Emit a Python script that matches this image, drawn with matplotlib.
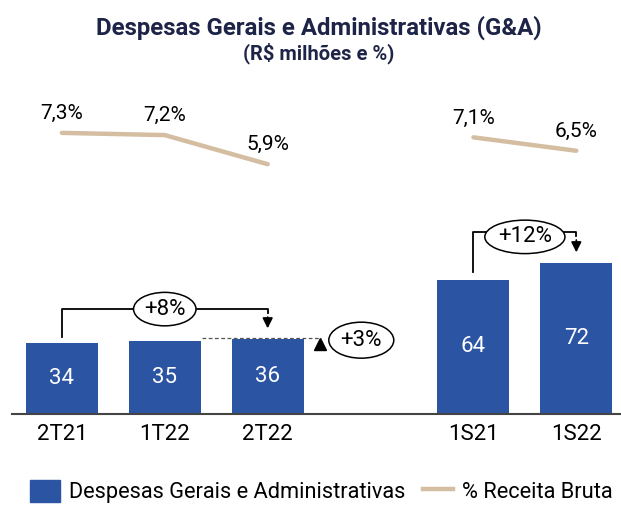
import matplotlib
matplotlib.use("Agg")
import matplotlib.pyplot as plt
from matplotlib.patches import Patch
from matplotlib.lines import Line2D
import numpy as np

plt.rcParams["font.family"] = ["Roboto", "DejaVu Sans"]

# data
quarters = ["2T21", "1T22", "2T22"]
semesters = ["1S21", "1S22"]
ga_quarters = [34, 35, 36]
ga_semesters = [64, 72]
pct_quarters = [7.3, 7.2, 5.9]
pct_semesters = [7.1, 6.5]
pct_labels_q = ["7,3%", "7,2%", "5,9%"]
pct_labels_s = ["7,1%", "6,5%"]

BAR = "#2B54A3"
TAN = "#D4BDA1"
NAVY = "#1E2447"

x_q = np.arange(len(quarters))
x_s = np.arange(len(semesters)) + len(quarters) + 1

fig = plt.figure(figsize=(6.21, 5.05), dpi=100)
ax = fig.add_axes([0.0193, 0.180, 0.98, 0.6416])

ax.bar(x_q, ga_quarters, width=0.70, color=BAR)
ax.bar(x_s, ga_semesters, width=0.70, color=BAR)
for x, v in zip(list(x_q) + list(x_s), ga_quarters + ga_semesters):
    ax.text(x, v / 2, str(v), ha="center", va="center", color="white", fontsize=16)

ax.set_xlim(-0.485, 5.43)
ax.set_ylim(0, 154.3)
ax.set_xticks(list(x_q) + list(x_s))
ax.set_xticklabels(quarters + semesters, fontsize=16)
ax.tick_params(axis="x", length=0, pad=7)
ax.set_yticks([])
for s in ["top", "left", "right"]:
    ax.spines[s].set_visible(False)
ax.spines["bottom"].set_color("#444444")
ax.spines["bottom"].set_linewidth(1.5)

# +8% bracket (2T21 -> 2T22)
yh = 50
ax.plot([x_q[0], x_q[0], x_q[2], x_q[2]], [ga_quarters[0] + 2.7, yh, yh, yh - 2],
        color="black", lw=1.3)
ax.annotate("", xy=(x_q[2], ga_quarters[2] + 3.5), xytext=(x_q[2], yh - 2.5),
            arrowprops=dict(arrowstyle="-|>", color="black", lw=1.3, mutation_scale=15))
ax.text(x_q[1], yh, "+8%", ha="center", va="center", fontsize=16,
        bbox=dict(boxstyle="ellipse,pad=0.06", fc="white", ec="black", lw=1.1))

# +3% (1T22 -> 2T22)
ax.plot([x_q[1] + 0.36, x_q[2] + 0.52], [ga_quarters[2] + 0.3] * 2,
        color="#555555", lw=0.9, ls=(0, (3, 2)))
ax.plot(x_q[2] + 0.51, ga_quarters[1] - 1.5, marker="^", color="black", markersize=8)
ax.text(x_q[2] + 0.91, ga_quarters[1] + 0.2, "+3%", ha="center", va="center", fontsize=16,
        bbox=dict(boxstyle="ellipse,pad=0.1", fc="white", ec="black", lw=1.1))

# +12% bracket (1S21 -> 1S22)
yh2 = 86.7
ax.plot([x_s[0], x_s[0], x_s[1], x_s[1]], [ga_semesters[0] + 3.6, yh2, yh2, yh2 - 2],
        color="black", lw=1.3)
ax.annotate("", xy=(x_s[1], ga_semesters[1] + 3.7), xytext=(x_s[1], yh2 - 2.5),
            arrowprops=dict(arrowstyle="-|>", color="black", lw=1.3, mutation_scale=15))
ax.text((x_s[0] + x_s[1]) / 2, yh2 - 2.3, "+12%", ha="center", va="center", fontsize=16,
        bbox=dict(boxstyle="ellipse,pad=0.06", fc="white", ec="black", lw=1.1))

# % receita bruta line
ax2 = ax.twinx()
ax2.set_ylim(-5.26, 9.21)
ax2.axis("off")
ax2.plot(x_q, pct_quarters, color=TAN, lw=3.2, solid_capstyle="round")
ax2.plot(x_s, pct_semesters, color=TAN, lw=3.2, solid_capstyle="round")
for x, v, t in zip(list(x_q) + list(x_s), pct_quarters + pct_semesters,
                   pct_labels_q + pct_labels_s):
    ax2.annotate(t, (x, v), xytext=(0, 14), textcoords="offset points",
                 ha="center", va="center", fontsize=15)

fig.text(0.513, 0.945, "Despesas Gerais e Administrativas (G&A)", ha="center", va="center",
         fontsize=17.3, fontweight="bold", color=NAVY)
fig.text(0.513, 0.895, "(R$ milhões e %)", ha="center", va="center",
         fontsize=14.5, fontweight="bold", color=NAVY)

handles = [Patch(color=BAR), Line2D([], [], color=TAN, lw=3.2)]
fig.legend(handles, ["Despesas Gerais e Administrativas", "% Receita Bruta"],
           loc="center", bbox_to_anchor=(0.517, 0.027), ncol=2, frameon=False,
           fontsize=15.7, handlelength=1.38, handleheight=1.2, columnspacing=0.8,
           handletextpad=0.41, borderpad=0)

fig.savefig("out.png", dpi=100)
